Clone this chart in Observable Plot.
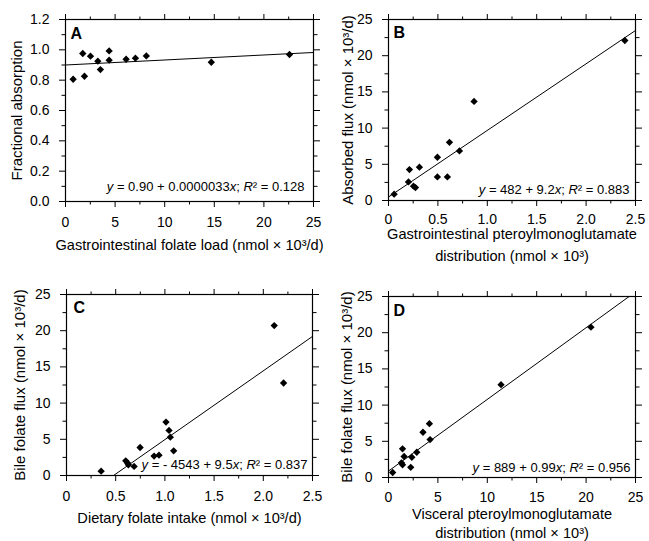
<!DOCTYPE html>
<html><head><meta charset="utf-8">
<script src="https://cdn.jsdelivr.net/npm/d3@7"></script>
<script src="https://cdn.jsdelivr.net/npm/@observablehq/plot@0.6"></script>
<style>
body{margin:0;background:#fff;}
#chart{position:relative;width:649px;height:541px;background:#fff;font-family:'Liberation Sans',Arial,sans-serif;}
#chart svg{position:absolute;}
</style></head><body><div id="chart"></div>
<script>
// ---- Panel A ----
const aX = [0.77,1.74,1.91,2.52,3.26,3.52,4.40,4.40,6.11,7.05,8.15,14.7,22.58];
const aY = [0.806,0.976,0.826,0.958,0.925,0.870,0.993,0.932,0.938,0.945,0.960,0.918,0.969];
const aCoef = [0.90, 0.0033];
const aEq = "y = 0.90 + 0.0000033x; R² = 0.128";
const aXLabel = ["Gastrointestinal folate load (nmol × 10³/d)"];
const aYLabel = "Fractional absorption";
const aXTicks = [0,5,10,15,20,25];
const aXTickLabels = ["0","5","10","15","20","25"];
const aXMinor = [2.5,7.5,12.5,17.5,22.5];
const aYTicks = [0,0.2,0.4,0.6,0.8,1.0,1.2];
const aYTickLabels = ["0.0","0.2","0.4","0.6","0.8","1.0","1.2"];
const aYMinor = [0.1,0.3,0.5,0.7,0.9,1.1];

// ---- Panel B ----
const bX = [0.057,0.202,0.212,0.253,0.273,0.313,0.495,0.495,0.596,0.617,0.718,0.866,2.392];
const bY = [0.87,2.57,4.27,1.98,1.79,4.60,5.97,3.26,3.26,8.04,6.85,13.69,22.10];
const bCoef = [0.482, 9.2];
const bEq = "y = 482 + 9.2x; R² = 0.883";
const bXLabel = ["Gastrointestinal pteroylmonoglutamate","distribution (nmol × 10³)"];
const bYLabel = "Absorbed flux (nmol × 10³/d)";

// ---- Panel C ----
const cX = [0.352,0.602,0.619,0.629,0.687,0.748,0.890,0.940,1.011,1.042,1.055,1.089,2.111,2.206];
const cY = [0.60,2.03,1.75,1.48,1.25,3.87,2.68,2.81,7.38,6.23,5.30,3.41,20.71,12.78];
const cCoef = [-4.543, 9.5];
const cEq = "y = - 4543 + 9.5x; R² = 0.837";
const cXLabel = ["Dietary folate intake (nmol × 10³/d)"];
const cYLabel = "Bile folate flux (nmol × 10³/d)";

// ---- Panel D ----
const dX = [0.42,1.42,1.58,1.31,1.42,2.36,2.25,2.86,4.21,3.49,4.14,11.39,20.49];
const dY = [0.69,3.96,2.90,2.03,1.75,2.80,1.40,3.49,5.24,6.25,7.44,12.82,20.77];
const dCoef = [0.889, 0.99];
const dEq = "y = 889 + 0.99x; R² = 0.956";
const dXLabel = ["Visceral pteroylmonoglutamate","distribution (nmol × 10³)"];
const dYLabel = "Bile folate flux (nmol × 10³/d)";

// shared tick sets
const smallXTicks = [0,0.5,1.0,1.5,2.0,2.5];
const smallXTickLabels = ["0","0.5","1.0","1.5","2.0","2.5"];
const smallXMinor = [0.25,0.75,1.25,1.75,2.25];
const fluxTicks = [0,5,10,15,20,25];
const fluxTickLabels = ["0","5","10","15","20","25"];
const fluxMinor = [2.5,7.5,12.5,17.5,22.5];

function lab(ticks, labels){ return d => labels[ticks.findIndex(t => Math.abs(t - d) < 1e-9)]; }

function italicize(svg){
  svg.querySelectorAll("text").forEach(t => {
    const s = t.textContent;
    if (!s.startsWith("y = ")) return;
    t.textContent = "";
    s.split(/([yxR])/).forEach(part => {
      if (!part) return;
      const ts = document.createElementNS("http://www.w3.org/2000/svg","tspan");
      ts.textContent = part;
      if (/^[yxR]$/.test(part)) ts.setAttribute("font-style","italic");
      t.appendChild(ts);
    });
  });
}

function panel(p){
  const data = p.xs.map((x,i) => ({x, y: p.ys[i]}));
  const lineData = p.xDomain.map(x => ({x, y: p.coef[0] + p.coef[1]*x}));
  const none = () => "";
  const marks = [
    Plot.axisX(p.xTicks, {anchor:"bottom", tickSize:6, tickPadding:p.xPad, tickFormat: lab(p.xTicks, p.xTickLabels), label:null}),
    Plot.axisX(p.xMinor, {anchor:"bottom", tickSize:3.5, tickFormat:none, label:null}),
    Plot.axisX(p.xTicks, {anchor:"top", tickSize:6, tickFormat:none, label:null}),
    Plot.axisX(p.xMinor, {anchor:"top", tickSize:3.5, tickFormat:none, label:null}),
    Plot.axisY(p.yTicks, {anchor:"left", tickSize:6, tickPadding:10, tickFormat: lab(p.yTicks, p.yTickLabels), label:null}),
    Plot.axisY(p.yMinor, {anchor:"left", tickSize:3.5, tickFormat:none, label:null}),
    Plot.axisY(p.yTicks, {anchor:"right", tickSize:6, tickFormat:none, label:null}),
    Plot.axisY(p.yMinor, {anchor:"right", tickSize:3.5, tickFormat:none, label:null}),
    Plot.frame({stroke:"black", strokeWidth:1.2}),
    Plot.line(lineData, {x:"x", y:"y", stroke:"black", strokeWidth:1, clip:true}),
    Plot.dot(data, {x:"x", y:"y", symbol:"diamond2", r:3.3, fill:"black", stroke:"none"}),
    Plot.text([p.letter], {frameAnchor:"top-left", textAnchor:"start", lineAnchor:"middle", dx:p.letterD[0], dy:p.letterD[1], fontSize:16, fontWeight:"bold"}),
    Plot.text([p.eq], {frameAnchor:"bottom-right", textAnchor:"end", lineAnchor:"middle", dx:p.eqD[0], dy:p.eqD[1], fontSize:13}),
    Plot.text([p.yLabel], {frameAnchor:"left", textAnchor:"middle", lineAnchor:"middle", rotate:-90, dx:p.yLabelDx, fontSize:15}),
    ...p.xLabel.map((s,i) => Plot.text([s], {frameAnchor:"bottom", textAnchor:"middle", lineAnchor:"middle", dy:p.xLabelDy[i], fontSize:14.6}))
  ];
  const svg = Plot.plot({
    width: p.size[0], height: p.size[1],
    marginLeft: p.m[0], marginRight: p.m[1], marginTop: p.m[2], marginBottom: p.m[3],
    x: {domain: p.xDomain}, y: {domain: p.yDomain},
    style: {fontSize:"14px", fontFamily:"'Liberation Sans', Arial, sans-serif", color:"black", background:"transparent", overflow:"visible"},
    marks
  });
  italicize(svg);
  svg.style.left = p.pos[0] + "px";
  svg.style.top = p.pos[1] + "px";
  document.getElementById("chart").appendChild(svg);
}

panel({pos:[0,0], size:[324,270], m:[65,11,19,69], xDomain:[0,25], yDomain:[0,1.2],
  xTicks:aXTicks, xTickLabels:aXTickLabels, xMinor:aXMinor, yTicks:aYTicks, yTickLabels:aYTickLabels, yMinor:aYMinor,
  xs:aX, ys:aY, coef:aCoef, letter:"A", letterD:[5,14], eq:aEq, eqD:[-9,-15], xPad:10,
  yLabel:aYLabel, yLabelDx:-48, xLabel:aXLabel, xLabelDy:[44]});

panel({pos:[324,0], size:[325,270], m:[64,14,19,70], xDomain:[0,2.5], yDomain:[0,25],
  xTicks:smallXTicks, xTickLabels:smallXTickLabels, xMinor:smallXMinor, yTicks:fluxTicks, yTickLabels:fluxTickLabels, yMinor:fluxMinor,
  xs:bX, ys:bY, coef:bCoef, letter:"B", letterD:[5,13], eq:bEq, eqD:[-6,-11], xPad:8,
  yLabel:bYLabel, yLabelDx:-40, xLabel:bXLabel, xLabelDy:[34,56]});

panel({pos:[0,270], size:[324,271], m:[66,12,24,66], xDomain:[0,2.5], yDomain:[0,25],
  xTicks:smallXTicks, xTickLabels:smallXTickLabels, xMinor:smallXMinor, yTicks:fluxTicks, yTickLabels:fluxTickLabels, yMinor:fluxMinor,
  xs:cX, ys:cY, coef:cCoef, letter:"C", letterD:[7,13], eq:cEq, eqD:[-5,-11], xPad:10,
  yLabel:cYLabel, yLabelDx:-46, xLabel:cXLabel, xLabelDy:[43]});

panel({pos:[324,270], size:[325,271], m:[64,14,26,64], xDomain:[0,25], yDomain:[0,25],
  xTicks:fluxTicks, xTickLabels:fluxTickLabels, xMinor:fluxMinor, yTicks:fluxTicks, yTickLabels:fluxTickLabels, yMinor:fluxMinor,
  xs:dX, ys:dY, coef:dCoef, letter:"D", letterD:[5,14], eq:dEq, eqD:[-5,-10], xPad:9,
  yLabel:dYLabel, yLabelDx:-41, xLabel:dXLabel, xLabelDy:[37,56]});
</script></body></html>
